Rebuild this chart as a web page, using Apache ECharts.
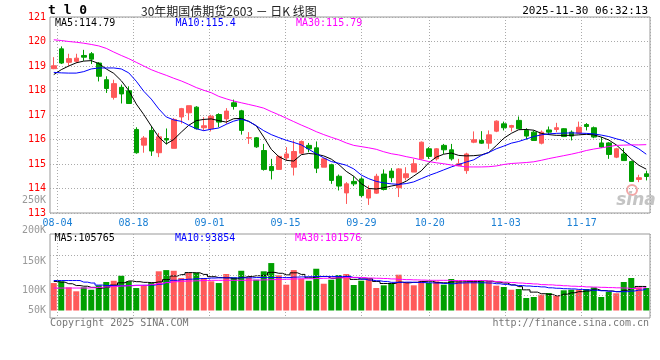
<!DOCTYPE html>
<html><head><meta charset="utf-8">
<script src="https://cdn.jsdelivr.net/npm/echarts@6/dist/echarts.min.js"></script>
<style>html,body{margin:0;padding:0;background:#fff}#c{width:660px;height:360px}</style>
</head><body><div id="c"></div>
<script>
const dates = ['08-01','08-04','08-05','08-06','08-07','08-08','08-11','08-12','08-13','08-14','08-15','08-18','08-19','08-20','08-21','08-22','08-25','08-26','08-27','08-28','08-29',
'09-01','09-02','09-03','09-04','09-05','09-08','09-09','09-10','09-11','09-12','09-15','09-16','09-17','09-18','09-19','09-22','09-23','09-24','09-25','09-26','09-29','09-30',
'10-09','10-10','10-13','10-14','10-15','10-16','10-17','10-20','10-21','10-22','10-23','10-24','10-27','10-28','10-29','10-30','10-31',
'11-03','11-04','11-05','11-06','11-07','11-10','11-11','11-12','11-13','11-14','11-17','11-18','11-19','11-20','11-21','11-24','11-25','11-26','11-27','11-28'];
const tickLabels = ['08-04','08-18','09-01','09-15','09-29','10-20','11-03','11-17'];
const priceMin = 113, priceMax = 121;
const volAxisLabels = ['250K','200K','150K','100K','50K'];

const open = [118.89,119.70,119.15,119.19,119.43,119.50,119.12,118.44,117.72,118.13,
117.99,116.41,115.77,116.37,115.46,116.04,115.64,116.92,117.09,117.32,
116.48,116.44,117.02,116.84,117.50,117.17,116.06,116.07,115.55,114.90,
114.78,115.25,114.87,115.44,115.76,115.66,114.87,114.97,114.50,113.82,
114.29,114.39,113.61,113.81,114.59,114.71,114.03,114.44,114.67,115.21,
115.62,115.21,115.76,115.58,114.94,114.73,115.89,115.96,115.85,116.34,
116.64,116.50,116.78,116.37,116.30,115.85,116.39,116.41,116.44,116.30,
116.26,116.61,116.48,115.86,115.86,115.28,115.41,115.10,114.37,114.60];
const close = [119.01,119.12,119.30,119.32,119.36,119.28,118.58,118.08,118.28,117.86,
117.47,115.46,116.06,115.53,116.11,115.98,116.82,117.26,117.38,116.44,
116.56,116.95,116.71,117.16,117.35,116.37,116.07,115.70,114.78,114.73,
115.31,115.41,115.51,115.92,115.62,114.83,115.21,114.33,114.10,114.19,
114.19,113.71,113.95,114.50,113.96,114.44,114.80,114.60,115.01,115.89,
115.31,115.62,115.58,115.21,115.01,115.41,115.99,115.85,116.19,116.75,
116.48,116.57,116.44,116.14,115.96,116.30,116.30,116.48,116.12,116.14,
116.50,116.53,116.10,115.69,115.39,115.62,115.14,114.29,114.44,114.49];
const low = [118.87,119.08,119.01,119.12,119.21,119.08,118.37,117.90,117.63,117.47,
117.46,115.42,115.46,115.33,115.28,115.80,115.64,116.65,116.79,116.41,
116.36,116.33,116.50,116.64,117.22,116.20,115.82,115.66,114.73,114.37,
114.76,115.14,114.53,115.41,115.48,114.63,114.87,114.19,113.92,113.37,
114.10,113.65,113.33,113.78,113.92,114.26,113.65,114.33,114.67,115.18,
115.21,115.14,115.41,115.14,114.91,114.60,115.85,115.82,115.62,116.30,
116.37,116.33,116.44,116.00,115.96,115.80,116.19,116.30,116.10,115.96,
116.23,116.37,116.05,115.65,115.21,115.24,115.14,114.29,114.26,114.33];
const high = [119.36,119.80,119.50,119.50,119.66,119.57,119.16,118.58,118.44,118.24,
118.17,116.50,116.14,116.54,116.27,116.45,116.88,117.29,117.38,117.36,
116.91,117.01,117.07,117.28,117.63,117.21,116.30,116.10,115.82,115.21,
115.35,115.69,115.96,115.96,115.86,115.92,115.24,115.01,114.57,114.26,
114.50,114.46,114.12,114.60,114.78,114.83,114.83,114.87,115.21,115.92,
115.69,115.65,115.82,115.82,115.21,115.46,116.33,116.34,116.37,116.78,
116.73,116.60,116.94,116.46,116.37,116.37,116.53,116.68,116.46,116.37,
116.73,116.67,116.53,116.10,115.89,115.66,115.65,115.14,114.56,114.73];

const ma5 = [118.65,118.85,119.00,119.13,119.20,119.22,119.10,118.88,118.70,118.40,
118.00,117.45,117.02,116.55,116.10,115.82,116.00,116.30,116.58,116.77,
116.82,116.84,116.77,116.71,116.85,116.86,116.74,116.56,116.10,115.60,
115.30,115.15,115.12,115.38,115.43,115.40,115.33,115.20,114.98,114.70,
114.50,114.20,114.00,113.98,114.03,114.10,114.16,114.30,114.51,114.72,
115.05,115.28,115.40,115.45,115.35,115.33,115.34,115.37,115.47,115.75,
116.05,116.25,116.40,116.41,116.38,116.25,116.20,116.17,116.17,116.17,
116.19,116.21,116.19,116.10,115.98,115.78,115.50,115.20,114.95,114.79];
const ma10 = [118.74,118.72,118.71,118.71,118.77,118.88,118.92,118.92,118.92,118.88,
118.72,118.38,117.97,117.65,117.25,116.92,116.80,116.74,116.58,116.44,
116.36,116.42,116.47,116.62,116.75,116.83,116.74,116.56,116.36,116.20,
116.08,115.97,115.88,115.78,115.60,115.42,115.25,115.10,115.03,114.95,
114.80,114.55,114.40,114.29,114.23,114.19,114.17,114.20,114.27,114.40,
114.53,114.64,114.76,114.88,114.98,115.08,115.17,115.35,115.47,115.62,
115.73,115.85,115.92,116.02,116.12,116.19,116.23,116.25,116.26,116.27,
116.26,116.25,116.23,116.18,116.12,116.03,115.95,115.78,115.62,115.40];
const ma30 = [120.07,120.04,120.00,119.97,119.93,119.88,119.82,119.72,119.57,119.43,
119.30,119.15,119.00,118.85,118.73,118.62,118.50,118.39,118.26,118.12,
118.01,117.91,117.76,117.66,117.57,117.50,117.43,117.36,117.28,117.14,
117.01,116.87,116.73,116.59,116.46,116.32,116.20,116.09,115.99,115.86,
115.76,115.71,115.66,115.60,115.50,115.42,115.37,115.30,115.24,115.17,
115.10,115.05,115.01,114.96,114.92,114.88,114.88,114.88,114.89,114.92,
114.98,115.02,115.04,115.06,115.09,115.15,115.22,115.28,115.34,115.40,
115.47,115.55,115.61,115.66,115.71,115.76,115.77,115.78,115.78,115.79];

const volume = [121000,128600,102000,84600,102000,91600,111000,125500,131000,153000,
128600,99000,111000,121000,172700,178000,175000,143000,165000,166500,
143000,128600,121000,160800,146000,175000,146000,135700,172700,209000,
155000,113700,178000,140000,131000,184000,118000,135700,156000,160800,
112300,131300,138800,99100,111000,116700,157700,124200,111000,128600,
121100,128600,113700,138800,128600,124200,128600,133000,128600,109300,
103500,91600,94700,55000,59500,69600,77000,65200,89000,91600,
91600,94700,102000,59500,81500,75800,125500,143200,102000,99100];
const volMa5 = [128000,125000,118000,110000,107000,102000,98000,103000,112000,122000,
130000,127000,124000,123000,126000,136000,152000,158000,167000,166000,
159000,149000,145000,144000,140000,146000,150000,153000,155000,168000,
164000,157000,166000,159000,144000,149000,150000,142000,145000,151000,
137000,139000,140000,128000,119000,119000,125000,122000,124000,128000,
129000,123000,122000,126000,126000,127000,127000,131000,129000,125000,
121000,113000,105000,91000,81000,74000,71000,65000,72000,78000,
83000,86000,94000,88000,86000,83000,89000,97000,106000,105765];
const volMa10 = [132000,132000,132000,132000,125000,121000,112000,110000,109000,109000,
110000,111000,111000,112000,116000,124000,133000,136000,138000,140000,
141000,143000,144000,144000,144000,144000,144000,145000,145000,145000,
145000,145000,147000,148000,149000,150000,150000,150000,150000,150000,
145000,138000,134000,131000,128000,124000,124000,125000,124000,123000,
122000,121000,119000,118000,121000,122000,122000,122000,121000,118000,
115000,112000,110000,108000,106000,104000,100000,98000,96000,95000,
93000,91000,89000,87000,85000,83000,83000,86000,90000,93854];
const volMa30 = [99000,99000,99000,99000,99000,100000,102000,104000,106000,108000,
109000,110000,111000,115000,119000,123000,127000,129000,130000,131000,
132000,133000,133000,133000,133000,133000,134000,134000,135000,136000,
137000,138000,139000,140000,140000,141000,142000,143000,144000,145000,
146000,145000,143000,142000,141000,139000,137000,136000,135000,134000,
133000,133000,133000,132000,132000,132000,132000,132000,130000,127000,
125000,123000,121000,119000,117000,114000,113000,111000,109000,107000,
106000,104000,103000,102000,101000,100000,99000,97000,99000,101576];

const UP = '#ff5a5a', DOWN = '#009f00';
const MONO = '"DejaVu Sans Mono", monospace';
const last = a => a[a.length - 1];
const candle = dates.map((d, i) => [open[i], close[i], low[i], high[i]]);
const volData = volume.map((v, i) => ({ value: v, itemStyle: { color: close[i] >= open[i] ? UP : DOWN } }));
const gridDates = dates.slice(0, dates.length - 1);
const showTick = (idx, val) => tickLabels.indexOf(val) >= 0;
const dotted = { show: true, interval: showTick, lineStyle: { color: '#aaa', type: [1, 2], width: 1 } };

function txt(x, y, text, fill, font, align) {
  return { type: 'text', x: x, y: y, silent: true,
    style: { text: text, fill: fill, font: font, align: align || 'left', verticalAlign: 'middle',
             textAlign: align || 'left', textVerticalAlign: 'middle' } };
}
const volLabelY = [200.7, 230.7, 261, 290, 310];

const chart = echarts.init(document.getElementById('c'));
chart.setOption({
  animation: false,
  backgroundColor: '#fff',
  grid: [
    { left: 50, top: 17, width: 600, height: 196, show: true, borderColor: '#999', borderWidth: 1 },
    { left: 50, top: 234, width: 600, height: 84, show: true, borderColor: '#999', borderWidth: 1 }
  ],
  xAxis: [
    { type: 'category', gridIndex: 0, position: 'top', data: dates, boundaryGap: true, show: false },
    { type: 'category', gridIndex: 0, position: 'bottom', data: gridDates, boundaryGap: true,
      axisLine: { show: false }, axisTick: { show: false },
      axisLabel: { interval: showTick, color: '#1a7fd4', fontFamily: MONO, fontSize: 10, margin: 5, padding: [0, 7.6, 0, 0] },
      splitLine: dotted },
    { type: 'category', gridIndex: 1, position: 'top', data: dates, boundaryGap: true, show: false },
    { type: 'category', gridIndex: 1, position: 'bottom', data: gridDates, boundaryGap: true,
      axisLine: { show: false }, axisTick: { show: false }, axisLabel: { show: false },
      splitLine: dotted }
  ],
  yAxis: [
    { type: 'value', gridIndex: 0, min: priceMin, max: priceMax, interval: 1,
      axisLine: { show: false }, axisTick: { show: false },
      axisLabel: { color: '#ff0000', fontFamily: MONO, fontSize: 10, margin: 4 },
      splitLine: { show: true, lineStyle: { color: '#aaa', type: [1, 2], width: 1 } } },
    { type: 'value', gridIndex: 1, min: -33000, max: 337000, show: false, splitLine: { show: false } }
  ],
  series: [
    { type: 'candlestick', xAxisIndex: 0, yAxisIndex: 0, data: candle, barWidth: 5, silent: true,
      itemStyle: { color: UP, color0: DOWN, borderColor: UP, borderColor0: DOWN, borderWidth: 1 } },
    { type: 'line', xAxisIndex: 0, yAxisIndex: 0, data: ma5, symbol: 'none', silent: true, lineStyle: { color: '#000', width: 1 } },
    { type: 'line', xAxisIndex: 0, yAxisIndex: 0, data: ma10, symbol: 'none', silent: true, lineStyle: { color: '#0000ff', width: 1 } },
    { type: 'line', xAxisIndex: 0, yAxisIndex: 0, data: ma30, symbol: 'none', silent: true, lineStyle: { color: '#ff00ff', width: 1 } },
    { type: 'bar', xAxisIndex: 2, yAxisIndex: 1, data: volData, barWidth: 6, silent: true,
      markLine: { silent: true, symbol: 'none', label: { show: false },
        lineStyle: { color: '#aaa', type: [1, 2], width: 1 },
        data: [{ yAxis: 67000 }, { yAxis: 155000 }, { yAxis: 243000 }] } },
    { type: 'line', xAxisIndex: 2, yAxisIndex: 1, data: volMa5, step: 'middle', symbol: 'none', silent: true, lineStyle: { color: '#000', width: 1 } },
    { type: 'line', xAxisIndex: 2, yAxisIndex: 1, data: volMa10, step: 'middle', symbol: 'none', silent: true, lineStyle: { color: '#0000ff', width: 1 } },
    { type: 'line', xAxisIndex: 2, yAxisIndex: 1, data: volMa30, step: 'middle', symbol: 'none', silent: true, lineStyle: { color: '#ff00ff', width: 1 } }
  ],
  graphic: [
    txt(48, 11, 't l 0', '#000', 'bold 13px ' + MONO),
    txt(141, 11, '30年期国债期货2603 － 日K 线图', '#222', '12px "Noto Sans CJK SC"'),
    txt(648, 11, '2025-11-30 06:32:13', '#000', '11px ' + MONO, 'right'),
    txt(55, 23.5, 'MA5:' + last(ma5), '#000', '10px ' + MONO),
    txt(175.5, 23.5, 'MA10:' + last(ma10), '#0000ff', '10px ' + MONO),
    txt(296, 23.5, 'MA30:' + last(ma30), '#ff00ff', '10px ' + MONO),
    txt(54.5, 238.5, 'MA5:' + last(volMa5), '#000', '10px ' + MONO),
    txt(175, 238.5, 'MA10:' + last(volMa10), '#0000ff', '10px ' + MONO),
    txt(295, 238.5, 'MA30:' + last(volMa30), '#ff00ff', '10px ' + MONO),
    txt(50, 323.5, 'Copyright 2025 SINA.COM', '#777', '10px ' + MONO),
    txt(649, 323.5, 'http://finance.sina.com.cn', '#777', '10px ' + MONO, 'right'),
    { type: 'circle', silent: true, shape: { cx: 632, cy: 190, r: 5 },
      style: { fill: 'none', stroke: '#f2a6a6', lineWidth: 2 } },
    txt(636, 201, 'sina', '#c4c4c4', 'italic bold 17px "DejaVu Sans"', 'center')
  ].concat(volAxisLabels.map((t, i) => txt(46, volLabelY[i], t, '#999', '10px ' + MONO, 'right')))
});
</script></body></html>
